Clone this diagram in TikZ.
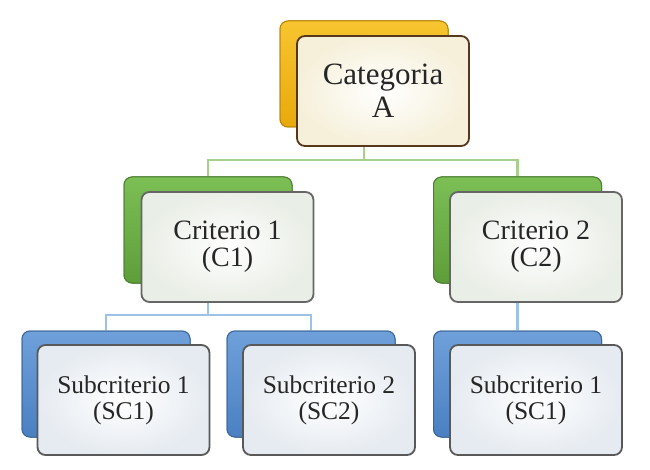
\documentclass[tikz,border=0pt]{standalone}
\usepackage{fontspec}
\setmainfont{Liberation Serif}
\definecolor{orgT}{HTML}{F8C530}
\definecolor{orgB}{HTML}{E9A90A}
\definecolor{orgD}{HTML}{B9860A}
\definecolor{grnT}{HTML}{7CBF55}
\definecolor{grnB}{HTML}{5E9E3A}
\definecolor{grnD}{HTML}{4E7F33}
\definecolor{bluT}{HTML}{6FA0DA}
\definecolor{bluB}{HTML}{4A80C2}
\definecolor{bluD}{HTML}{3D6799}
\definecolor{grnL}{HTML}{A9CF8C}
\definecolor{bluL}{HTML}{9CC2E5}
\definecolor{creamO}{HTML}{F6F0DA}
\definecolor{grayG}{HTML}{E9EEE6}
\definecolor{grayB}{HTML}{E6EBF1}
\begin{document}
\begin{tikzpicture}[x=1pt,y=-1pt,
  backbox/.style={rounded corners=8pt, minimum width=168pt, minimum height=106pt, line width=1pt, inner sep=0pt},
  frontbox/.style={rounded corners=8pt, minimum width=172pt, minimum height=110pt, line width=1.8pt, align=center, inner sep=0pt, text=black!85},
  orgback/.style={backbox, draw=orgD, top color=orgT, bottom color=orgB},
  grnback/.style={backbox, draw=grnD, top color=grnT, bottom color=grnB},
  bluback/.style={backbox, draw=bluD, top color=bluT, bottom color=bluB},
  orgfront/.style={frontbox, draw=black!55!brown, inner color=white, outer color=creamO},
  grnfront/.style={frontbox, draw=black!60, inner color=white, outer color=grayG},
  blufront/.style={frontbox, draw=black!65, inner color=white, outer color=grayB},
  grnline/.style={draw=grnL, line width=2.6pt},
  bluline/.style={draw=bluL, line width=2.6pt}
]
\useasboundingbox (0,0) rectangle (650,470);
% back boxes
\node[orgback] (catB) at (364,74) {};
\node[grnback] (c1B) at (208,230) {};
\node[grnback] (c2B) at (517.5,230) {};
\node[bluback] (s1B) at (106,384) {};
\node[bluback] (s2B) at (311,384) {};
\node[bluback] (s3B) at (517.5,384) {};
% connectors
\coordinate (busA) at (364,160);
\coordinate (busB) at (208,315);
\draw[grnline] (catB.south) -- (busA) -| (c1B.north);
\draw[grnline] (busA) -| (c2B.north);
\draw[bluline] (c1B.south) -- (busB) -| (s1B.north);
\draw[bluline] (busB) -| (s2B.north);
\draw[bluline] (c2B.south) -- (s3B.north);
% redraw back boxes on top of connectors
\node[orgback] at (catB) {};
\node[grnback] at (c1B) {};
\node[grnback] at (c2B) {};
\node[bluback] at (s1B) {};
\node[bluback] at (s2B) {};
\node[bluback] at (s3B) {};
% front boxes
\node[orgfront, font=\fontsize{31}{33}\selectfont] (catF) at (383,91) {Categoria\\A};
\node[grnfront, font=\fontsize{28}{27}\selectfont] (c1F) at (227.5,247) {Criterio 1\\(C1)};
\node[grnfront, font=\fontsize{28}{27}\selectfont] (c2F) at (536,247) {Criterio 2\\(C2)};
\node[blufront, font=\fontsize{25.5}{26}\selectfont] (s1F) at (123.5,400) {Subcriterio 1\\(SC1)};
\node[blufront, font=\fontsize{25.5}{26}\selectfont] (s2F) at (329,400) {Subcriterio 2\\(SC2)};
\node[blufront, font=\fontsize{25.5}{26}\selectfont] (s3F) at (536,400) {Subcriterio 1\\(SC1)};
\end{tikzpicture}
\end{document}
